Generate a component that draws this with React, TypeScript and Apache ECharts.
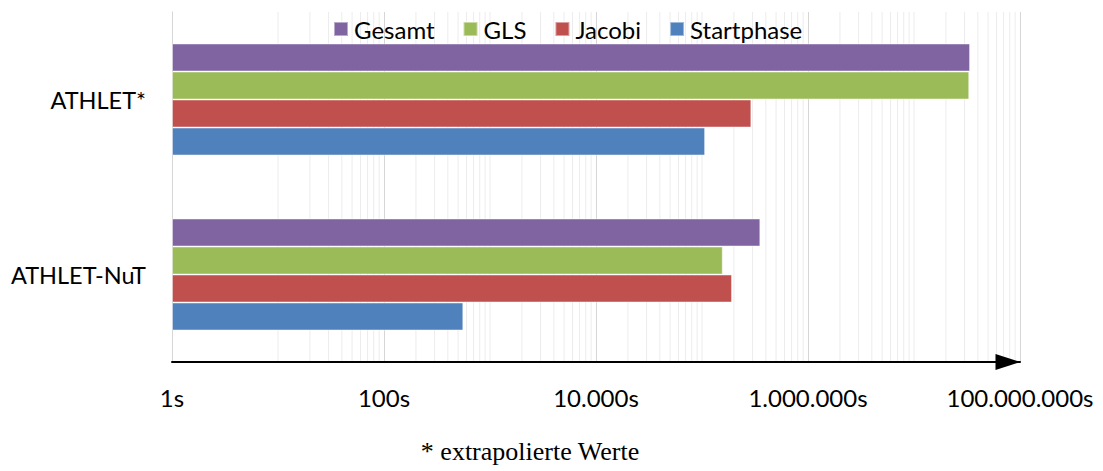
import React, { useEffect, useRef } from "react";
import * as echarts from "echarts";

// Laufzeiten je Programmvariante (Sekunden, logarithmische Achse)
const categories = ["ATHLET*", "ATHLET-NuT"];
const seriesNames = ["Gesamt", "GLS", "Jacobi", "Startphase"];
const gesamt = [3.38e7, 3.55e5];
const gls = [3.32e7, 1.57e5];
const jacobi = [2.92e5, 1.92e5];
const startphase = [1.07e5, 560];
const seriesColors = ["#8064A2", "#9BBB59", "#C0504D", "#4F81BD"];
const footnote = "* extrapolierte Werte";

const FONT = "Lato, 'Open Sans', sans-serif";

// Nebengitterlinien: 10, 20, …, 90, 100 … für die Dekaden 10^1 bis 10^7
// (ohne die Hauptlinien bei geraden Zehnerpotenzen, die splitLine zeichnet)
const minorGrid: number[] = [];
for (let e = 1; e <= 7; e++) {
  for (let k = 1; k <= 9; k++) {
    if (k === 1 && e % 2 === 0) continue;
    minorGrid.push(k * Math.pow(10, e));
  }
}

function formatSeconds(v: number): string {
  const n = Math.round(v);
  return String(n).replace(/\B(?=(\d{3})+(?!\d))/g, ".") + "s";
}

export default function App() {
  const ref = useRef<HTMLDivElement>(null);

  useEffect(() => {
    if (!ref.current) return;
    const chart = echarts.init(ref.current, undefined, { renderer: "svg" });
    const values = [gesamt, gls, jacobi, startphase];

    chart.setOption({
      animation: false,
      backgroundColor: "#ffffff",
      textStyle: { fontFamily: FONT },
      title: {
        text: footnote,
        left: 530,
        top: 438,
        textAlign: "center",
        padding: 0,
        textStyle: {
          fontFamily: "'Liberation Serif', 'DejaVu Serif', serif",
          fontWeight: "normal",
          fontSize: 26,
          color: "#000",
        },
      },
      legend: {
        data: seriesNames,
        left: 328,
        top: 12,
        icon: "rect",
        itemWidth: 14,
        itemHeight: 14,
        itemGap: 28,
        textStyle: { fontFamily: FONT, fontSize: 24, color: "#000", padding: [0, 0, 0, 1] },
        selectedMode: false,
      },
      grid: { left: 172, right: 83, top: 12, bottom: 109, containLabel: false },
      xAxis: {
        type: "log",
        logBase: 10,
        min: 1,
        max: 1e8,
        interval: 2,
        // above the minor grid lines, below the bars
        z: 2,
        axisLine: {
          show: true,
          // solid arrow head, tip pointing along the axis
          symbol: ["none", "path://M8,0 L16,25 L0,25 Z"],
          symbolSize: [17, 25],
          symbolOffset: [0, -12],
          lineStyle: { color: "#000", width: 2 },
        },
        axisTick: { show: false },
        axisLabel: {
          formatter: formatSeconds,
          fontFamily: FONT,
          fontSize: 24,
          color: "#000",
          margin: 23,
          showMinLabel: true,
          showMaxLabel: true,
          hideOverlap: false,
        },
        splitLine: { show: true, lineStyle: { color: "#d6d6d6", width: 1 } },
        minorSplitLine: { show: false },
      },
      yAxis: {
        type: "category",
        data: categories,
        inverse: true,
        axisLine: { show: true, lineStyle: { color: "#cfcfcf", width: 1 } },
        axisTick: { show: false },
        axisLabel: { fontFamily: FONT, fontSize: 23.5, color: "#000", margin: 26 },
        splitLine: { show: false },
      },
      series: [
        {
          type: "custom",
          name: "grid-minor",
          silent: true,
          z: 1,
          data: minorGrid.map((v) => [v, 0]),
          encode: { x: 0, y: 1 },
          renderItem: (params: any, api: any) => {
            const x = api.coord([api.value(0), 0])[0];
            const cs = params.coordSys;
            return {
              type: "line",
              shape: { x1: x, y1: cs.y, x2: x, y2: cs.y + cs.height },
              style: { stroke: "#ececec", lineWidth: 1 },
            };
          },
        },
        ...seriesNames.map((name, i) => ({
          type: "bar",
          name,
          data: values[i],
          z: 3,
          barGap: "0%",
          barCategoryGap: "36%",
          itemStyle: {
            color: seriesColors[i],
            borderColor: "rgba(255,255,255,0.45)",
            borderWidth: 1,
          },
        })),
      ],
    });

    return () => chart.dispose();
  }, []);

  return (
    <div
      ref={ref}
      style={{ position: "fixed", left: 0, top: 0, width: 1103, height: 471 }}
    />
  );
}
